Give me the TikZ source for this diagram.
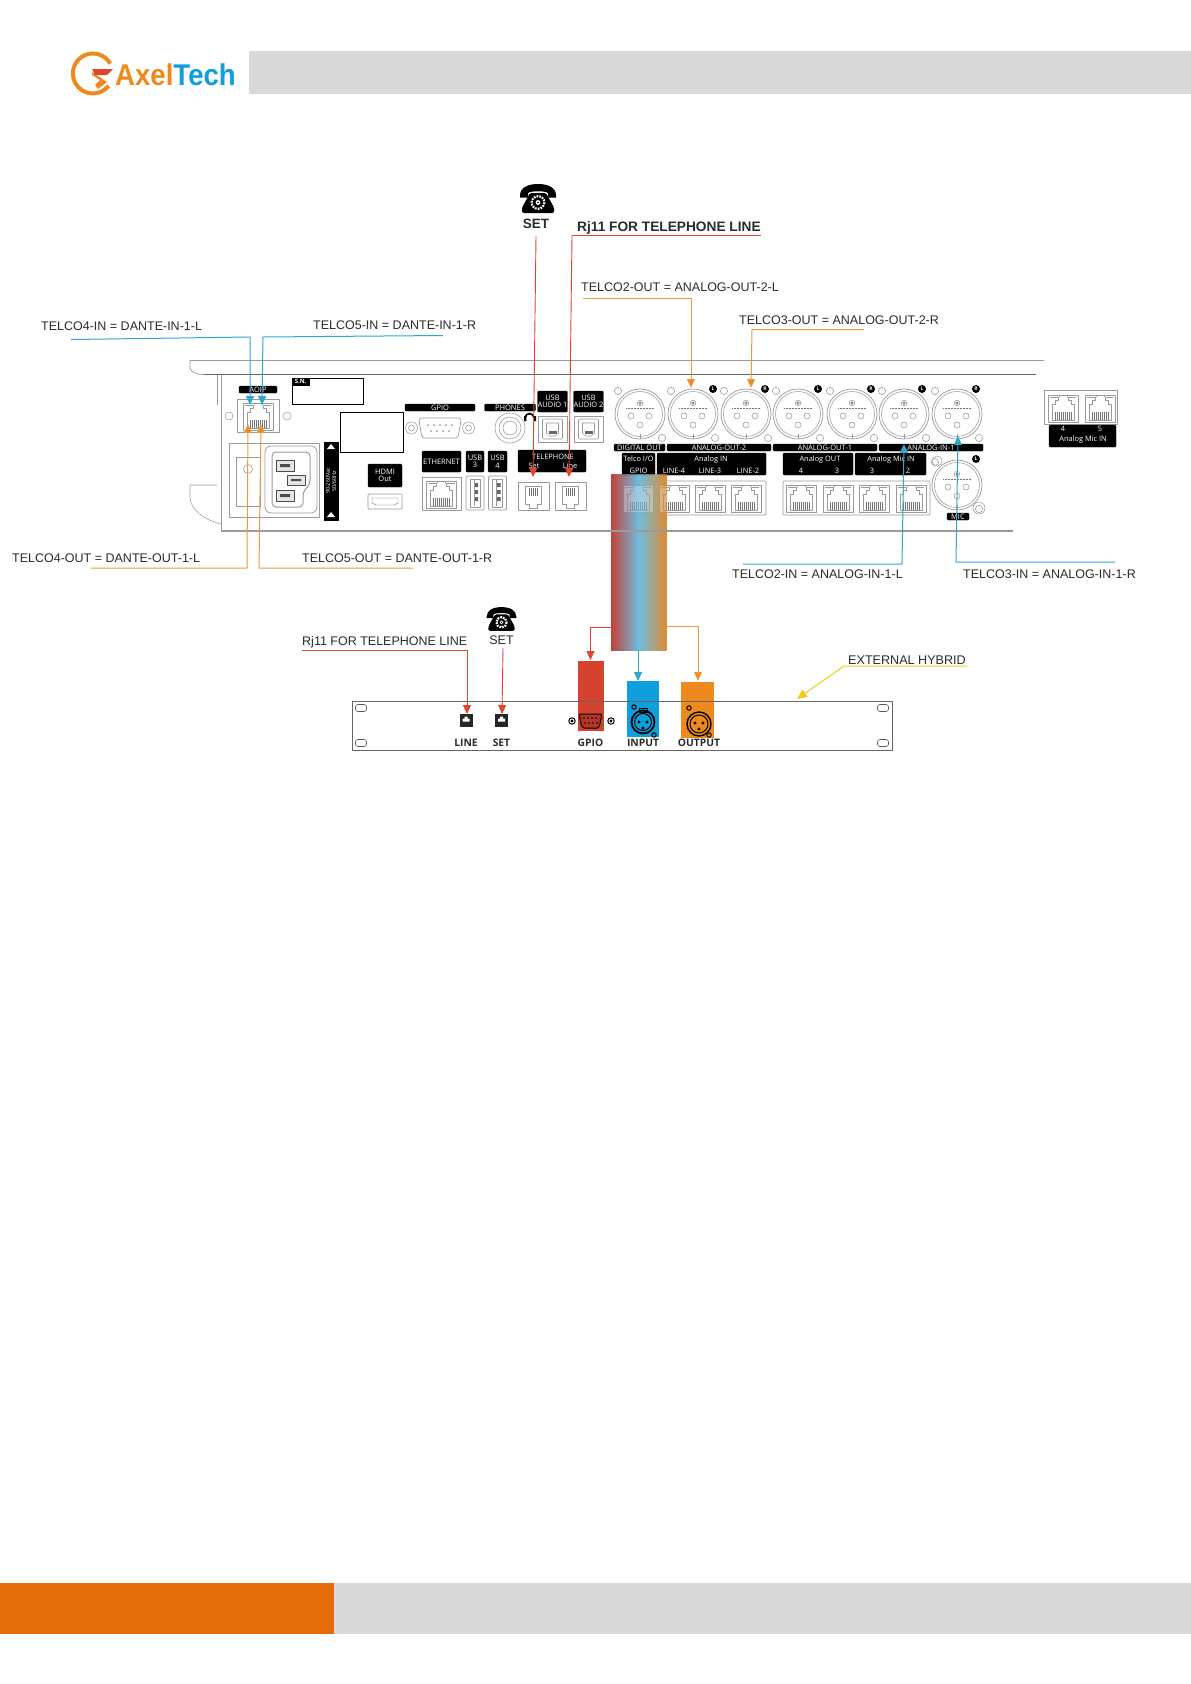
\documentclass[tikz,border=0pt]{standalone}
\usepackage{fontspec}
\setmainfont{Liberation Sans}
\newfontfamily\opensf{Open Sans}
\usetikzlibrary{arrows.meta,calc}
\definecolor{hdrgrey}{HTML}{D9D9D9}
\definecolor{footor}{HTML}{E46C0A}
\definecolor{axor}{HTML}{EE8A1D}
\definecolor{axbl}{HTML}{0E9FDC}
\definecolor{lnred}{HTML}{E0452F}
\definecolor{lnblue}{HTML}{2FA6CF}
\definecolor{lnor}{HTML}{EE9A3E}
\definecolor{lnyel}{HTML}{F2CB1D}
\definecolor{panel}{HTML}{9A9A9A}
\definecolor{txt}{HTML}{2B2B2B}
\definecolor{gradl}{HTML}{C4423A}
\definecolor{gradm}{HTML}{6DBDE2}
\definecolor{gradr}{HTML}{E08A2E}
\tikzset{
  lbl/.style={anchor=west,inner sep=0pt,text=txt,font=\fontsize{12.5}{14}\selectfont},
  blk/.style={fill=black,draw=black,line width=0.3pt,rounded corners=1pt,text=white,inner sep=0pt,align=center,font=\opensf\fontsize{7.5}{8.6}\selectfont},
  wht/.style={text=white,inner sep=0pt,font=\opensf\fontsize{7.4}{8}\selectfont},
  ln/.style={draw=panel,line width=0.55pt},
  tipblue/.style={draw=lnblue,line width=1pt,-{Triangle[length=9pt,width=8pt,fill=lnblue]}},
  tipor/.style={draw=lnor,line width=1pt,-{Triangle[length=9pt,width=8pt,fill=axor]}},
  tipred/.style={draw=lnred,line width=0.9pt,-{Triangle[length=9pt,width=8pt,fill=lnred]}},
  rackl/.style={inner sep=0pt,text=txt,font=\opensf\bfseries\fontsize{10.3}{11}\selectfont},
  gradband/.style={left color=gradl,right color=gradr,middle color=gradm},
  pics/telset/.style={code={
    \fill[black] (-18,-3) .. controls (-18,-11) and (-10,-14.5) .. (0,-14.5) .. controls (10,-14.5) and (18,-11) .. (18,-3) -- (18,-1) -- (10,-1) -- (10,-5) .. controls (10,-8) and (-10,-8) .. (-10,-5) -- (-10,-1) -- (-18,-1) -- cycle;
    \fill[black,rounded corners=1.5pt] (-8,-5.5) -- (8,-5.5) -- (16,9) -- (16,14.5) -- (-16,14.5) -- (-16,9) -- cycle;
    \draw[white,line width=2.2pt,dash pattern=on 1.7pt off 1.1pt] (0,4) circle (6.3);
    \fill[white] (0,4) circle (2.4);
    \fill[black] (0,4) circle (0.9);
  }},
  pics/xlrport/.style={code={
    \draw[ln,line width=0.7pt] (0,0) circle (25);
    \draw[ln] (0,0) circle (22.5);
    \draw[ln,fill=white] (0,-11) circle (2.8);
    \draw[ln,fill=black!70] (0,-11) circle (1.3);
    \draw[ln] (-9,2) circle (3); \draw[ln] (9,2) circle (3);
    \draw[ln] (0,11) circle (3);
    \draw[black!55,line width=0.9pt,dash pattern=on 1pt off 0.5pt] (-14,-5.5) -- (14,-5.5);
    \draw[ln] (0,20) -- (0,25);
    \draw[ln] (-22,-23) circle (3.6);
    \draw[ln] (22,24) circle (3.6);
  }},
  pics/rjport/.style={code={
    \draw[ln,fill=white] (-15,-13) rectangle (15,14);
    \draw[ln] (-13,-11) -- (-5,-11) -- (-5,-8) -- (-8,-8) (13,-11) -- (5,-11) -- (5,-8) -- (8,-8);
    \draw[ln] (-8,-8) -- (-8,-4) -- (-11,-4) -- (-11,12) -- (11,12) -- (11,-4) -- (8,-4) -- (8,-8);
    \draw[ln] (-4,-11) -- (-4,-13) -- (4,-13) -- (4,-11);
    \draw[black!55,line width=0.5pt] (-8,4) -- (-8,12) (-6,4) -- (-6,12) (-4,4) -- (-4,12) (-2,4) -- (-2,12) (0,4) -- (0,12) (2,4) -- (2,12) (4,4) -- (4,12) (6,4) -- (6,12) (8,4) -- (8,12);
  }},
  pics/rjeleven/.style={code={
    \draw[ln,line width=0.7pt] (-15.5,-14) rectangle (15.5,14);
    \draw[ln] (-8,-10) -- (8,-10) -- (8,8) -- (4,8) -- (4,12) -- (-4,12) -- (-4,8) -- (-8,8) -- cycle;
    \draw[black!55,line width=0.5pt] (-4,-8) -- (-4,0) (-2,-8) -- (-2,0) (0,-8) -- (0,0) (2,-8) -- (2,0) (4,-8) -- (4,0);
  }},
  pics/rackjack/.style={code={
    \fill[black!85] (-6.5,-6.5) rectangle (6.5,6.5);
    \fill[white] (-3.5,1) -- (-3.5,-2) -- (-1.5,-2) -- (-1.5,-4) -- (1.5,-4) -- (1.5,-2) -- (3.5,-2) -- (3.5,1) -- cycle;
  }},
  pics/usba/.style={code={
    \draw[ln,line width=0.7pt,rounded corners=1pt] (-9,-17) rectangle (9,17);
    \draw[ln] (-5,-14) rectangle (5,14);
    \fill[black!60] (-1,-10) rectangle (3,-6) (-1,-3) rectangle (3,1) (-1,4) rectangle (3,8);
    \draw[ln] (-1,-13) -- (-1,13);
  }},
  pics/usbb/.style={code={
    \draw[ln,line width=0.7pt] (-14.5,-13) rectangle (14.5,13);
    \draw[ln,rounded corners=1pt] (-10,-10) rectangle (10,10);
    \draw[ln] (-6,-6) -- (6,-6) -- (6,4) -- (3,7) -- (-3,7) -- (-6,4) -- cycle;
    \fill[black!60] (-4,2) rectangle (4,5);
  }},
  pics/dbnine/.style={code={
    \draw[ln,rounded corners=3pt,line width=0.7pt] (-21.5,-10) -- (21.5,-10) -- (18,10) -- (-18,10) -- cycle;
    \foreach \xx in {-12,-6,0,6,12} \fill[panel] (\xx,-3) circle (1);
    \foreach \xx in {-9,-3,3,9} \fill[panel] (\xx,3) circle (1);
    \draw[ln] (-28.5,0) circle (6) (-28.5,0) circle (3);
    \draw[ln] (28.5,0) circle (6) (28.5,0) circle (3);
  }},
}
\begin{document}
\begin{tikzpicture}[x=1pt,y=-1pt,line join=round]
\useasboundingbox (0,0) rectangle (1191,1684);
\fill[white] (0,0) rectangle (1191,1684);
% header / footer
\fill[hdrgrey] (249,51) rectangle (1191,94);
\fill[hdrgrey] (334,1583) rectangle (1191,1634);
\fill[footor] (0,1583) rectangle (334,1634);
% logo
\draw[axor,line width=4pt] (110.2,63.5) arc[start angle=30,end angle=322,radius=20pt];
\fill[axor] (92,72) -- (107,82) -- (98,89) -- (95,85) -- (100,80) -- (92,75) -- cycle;
\fill[lnred] (92,69) -- (113,69) -- (107,75) -- (95,75) -- cycle;
\node[anchor=west,inner sep=0pt,xscale=0.92,font=\bfseries\fontsize{30}{32}\selectfont] (logotext) at (115,74.5) {\textcolor{axor}{Axel}\textcolor{axbl}{Tech}};
% gradient band
\shade[gradband] (611,474) rectangle (666.5,650);
\node[inner sep=0pt,minimum width=55pt,minimum height=176pt] (band) at (638.75,562) {};
% device outline
\draw[ln,line width=0.7pt] (1044,360.5) -- (190,360.5) -- (190,367) .. controls (190,372) and (196,374.5) .. (204,374.5);
\draw[black!60,line width=1.1pt] (204,374.5) -- (1036,374.5);
\draw[ln] (217,375) -- (217,405) (221,375) -- (221,531);
\draw[ln] (190,485) -- (217,485) (190,485) -- (190,497) .. controls (190,510) and (205,520) .. (221,524);
\draw[ln,line width=1.1pt] (221,531) -- (1013,531);
% AOIP
\node[blk,minimum width=38pt,minimum height=7pt] (aoip) at (258,389.5) {AOIP};
\draw[ln] (237,399) rectangle (279,432);
\pic at (258,416) {rjport};
\draw[ln] (229,416) circle (4) (287,416) circle (4);
% S.N.
\draw[black,line width=1pt] (292,378) rectangle (363,404);
\node[blk,minimum width=17pt,minimum height=7pt,anchor=north west,font=\opensf\bfseries\fontsize{6}{7}\selectfont,rounded corners=0pt] (sn) at (292,378) {S.N.};
% GPIO
\node[blk,minimum width=70pt,minimum height=7pt] (gpiolab) at (440,407.5) {GPIO};
\draw[black,line width=1pt] (340,412) rectangle (403,452);
\pic at (440,428) {dbnine};
% PHONES
\node[blk,minimum width=51pt,minimum height=7pt] (phones) at (510,407.5) {PHONES};
\draw[ln] (510,428) circle (15) (510,428) circle (11) (510,428) circle (7);
\draw[black,line width=1.7pt] (525,418) arc[start angle=180,end angle=0,radius=4.5pt];
\fill[black] (524,416) rectangle (526.4,421) (533.5,416) rectangle (536,421);
% USB audio
\node[blk,minimum width=29pt,minimum height=21pt] (usba1) at (552.5,401.5) {USB\\[-1pt]AUDIO 1};
\node[blk,minimum width=29pt,minimum height=21pt] (usba2) at (588.5,401.5) {USB\\[-1pt]AUDIO 2};
\pic at (552.5,429) {usbb};
\pic at (588.5,429) {usbb};
% ethernet, usb, hdmi
\node[blk,minimum width=39pt,minimum height=21pt] (eth) at (441.5,461.5) {ETHERNET};
\draw[ln] (422,477) rectangle (461,510);
\pic at (441.5,494) {rjport};
\node[blk,minimum width=18pt,minimum height=21pt] (usb3) at (475,461.5) {USB\\[-1pt]3};
\node[blk,minimum width=19pt,minimum height=21pt] (usb4) at (497.5,461.5) {USB\\[-1pt]4};
\pic at (475,493) {usba};
\pic at (497.5,493) {usba};
\node[blk,minimum width=34pt,minimum height=23pt] (hdmi) at (385,475.5) {HDMI\\[-1pt]Out};
\draw[ln,rounded corners=1pt,line width=0.7pt] (368,494) rectangle (402,509);
\draw[black!60] (372,498) -- (398,498) -- (398,503) -- (394,505) -- (376,505) -- (372,503) -- cycle;
% telephone
\node[blk,minimum width=68pt,minimum height=22pt] (tel) at (552,461) {};
\node[wht] (teltxt) at (553,456.5) {TELEPHONE};
\node[wht] (telset) at (534,465.5) {Set};
\node[wht] (telline) at (570,465.5) {Line};
\pic at (533.5,496) {rjeleven};
\pic at (570.5,496) {rjeleven};
% power
\draw[ln] (229,443) rectangle (319,517);
\draw[ln] (236,457) rectangle (260,506);
\draw[ln] (248,469) circle (4.5);
\draw[ln,rounded corners=6pt,line width=0.8pt] (265,446) rectangle (317,513);
\draw[ln,line width=1pt,rounded corners=4pt] (272,452) -- (310,452) -- (310,484) -- (303,492) -- (303,507) -- (272,507) -- cycle;
\draw[black!70,fill=black!10] (276,460) rectangle (294,471) (276,490) rectangle (294,501) (287,475) rectangle (305,485);
\fill[black!70] (280,464) rectangle (290,467) (280,494) rectangle (290,497) (291,479) rectangle (301,481);
\node[blk,minimum width=14pt,minimum height=78pt,rounded corners=0pt] (volt) at (331,481) {};
\node[wht,rotate=90,align=center,font=\opensf\fontsize{5.4}{6.2}\selectfont] (volttxt) at (331,481) {90-260Vac\\50/60Hz};
\fill[white] (331,444) -- (335,449) -- (327,449) -- cycle;
\fill[white] (331,512) -- (327,517) -- (335,517) -- cycle;
% XLR row
\foreach \cx/\nm in {640/x1,693/x2,746/x3,798/x4,852/x5,904/x6,957/x7} {\pic at (\cx,414) {xlrport}; \coordinate (\nm) at (\cx,414);}
\foreach \cx/\bd/\nm in {713/L/bb1,765/R/bb2,818/L/bb3,871/R/bb4,922/L/bb5,976/R/bb6}
  \node[circle,fill=black,text=white,inner sep=0pt,minimum size=8pt,font=\opensf\bfseries\fontsize{5}{6}\selectfont] (\nm) at (\cx,389) {\bd};
\node[blk,minimum width=51pt,minimum height=7pt] (digout) at (639.5,447.5) {DIGITAL OUT};
\node[blk,minimum width=104pt,minimum height=7pt] (ao2) at (719,447.5) {ANALOG-OUT-2};
\node[blk,minimum width=104pt,minimum height=7pt] (ao1) at (825,447.5) {ANALOG-OUT-1};
\node[blk,minimum width=104pt,minimum height=7pt] (ai1) at (931,447.5) {ANALOG-IN-1};
% Telco, Analog IN etc
\node[blk,minimum width=33pt,minimum height=22pt] (telcob) at (638.5,464) {};
\node[wht] (telcot) at (638.5,459) {Telco I/O};
\node[wht] (telcog) at (638.5,471) {GPIO};
\node[blk,minimum width=109pt,minimum height=22pt] (ainb) at (711.5,464) {};
\node[wht] (aint) at (711,459.5) {Analog IN};
\node[wht] (l4) at (674,471) {LINE-4};
\node[wht] (l3) at (710,471) {LINE-3};
\node[wht] (l2) at (748,471) {LINE-2};
\node[blk,minimum width=70pt,minimum height=22pt] (aob) at (818,464) {};
\node[wht] (aot) at (820,459.5) {Analog OUT};
\node[wht] (ao4) at (801,471) {4};
\node[wht] (ao3) at (837,471) {3};
\node[blk,minimum width=71pt,minimum height=22pt] (amb) at (890.5,464) {};
\node[wht] (amt) at (891,459.5) {Analog Mic IN};
\node[wht] (am3) at (872,471) {3};
\node[wht] (am2) at (908,471) {2};
% RJ45 groups
\draw[ln,rounded corners=1pt,line width=0.7pt] (619,481) rectangle (766,515);
\foreach \cx in {674,710,746} \pic at (\cx,498) {rjport};
\pic at (638,498) {rjport};
\shade[gradband,opacity=0.72] (611,474) rectangle (666.5,520);
\draw[ln,rounded corners=1pt,line width=0.7pt] (783,481) rectangle (930,515);
\foreach \cx in {801,838,874,911} \pic at (\cx,498) {rjport};
% MIC
\pic at (957,485) {xlrport};
\draw[ln] (937,461) circle (5) (979,508) circle (6);
\node[circle,fill=black,text=white,inner sep=0pt,minimum size=8pt,font=\opensf\bfseries\fontsize{5}{6}\selectfont] (bbmic) at (976,459) {L};
\node[blk,minimum width=22pt,minimum height=7pt] (mic) at (958,516.5) {MIC};
% side panel
\draw[ln,line width=0.8pt] (1044,390.5) rectangle (1117.5,424);
\begin{scope}[scale=0.95]
\pic at (1063/0.95,408/0.95) {rjport};
\pic at (1100/0.95,408/0.95) {rjport};
\end{scope}
\node[blk,minimum width=67pt,minimum height=22pt] (sideb) at (1082.5,436) {};
\node[wht] (s4) at (1063,428.5) {4};
\node[wht] (s5) at (1100,428.5) {5};
\node[wht] (st) at (1083,439.5) {Analog Mic IN};
% rack
\draw[black!60,line width=0.9pt] (352,701) rectangle (892.5,750);
\foreach \hx/\hy in {361/708,361/743,883/708,883/743}
  \draw[black!65,line width=0.6pt,rounded corners=2.5pt] (\hx-5.5,\hy-3.5) rectangle (\hx+5.5,\hy+3.5);
\fill[lnred!95!black] (578,661) rectangle (603.5,731);
\fill[axbl] (627,681) rectangle (659,737);
\fill[axor] (681,682) rectangle (714,737.5);
\draw[black!60,line width=0.9pt] (578,701) -- (714,701);
\pic at (466,720.5) {rackjack};
\pic at (501.5,720.5) {rackjack};
% GPIO connector on rack
\begin{scope}[black,line width=1pt]
\draw[fill=lnred!80!black,rounded corners=2pt] (579,714) -- (602,714) -- (599,728) -- (582,728) -- cycle;
\foreach \xx in {584,588,592,596} \fill[black] (\xx,718) circle (0.9) (\xx+1,723) circle (0.9);
\draw[fill=white] (572,721) circle (3.2);
\draw[fill=white] (611,721) circle (3.2);
\fill[black] (572,721) circle (1.6) (611,721) circle (1.6);
% input XLR
\draw[line width=1.8pt] (643,722) circle (11.5);
\draw (643,722) circle (8.5);
\fill[black] (639,722) circle (1.7) (647,722) circle (1.7) (643,728) circle (1.7);
\draw (639,712) rectangle (647,708);
\draw (634,707) circle (2.2) (654,735) circle (2.2);
% output XLR
\draw[line width=1.4pt] (699,724) circle (12);
\draw (699,724) circle (9);
\fill[black] (695,723) circle (1.7) (703,723) circle (1.7) (699,729) circle (1.7);
\draw (689,708) circle (2.2) (709,735) circle (2.2);
\end{scope}
\node[rackl] (rline) at (466,743) {LINE};
\node[rackl] (rset) at (501.5,743) {SET};
\node[rackl] (rgpio) at (590.5,743) {GPIO};
\node[rackl] (rinput) at (643,743) {INPUT};
\node[rackl] (routput) at (699,743) {OUTPUT};
% phones
\pic at (538,198.5) {telset};
\node[inner sep=0pt,text=txt,font=\bfseries\fontsize{13.5}{15}\selectfont] (settop) at (536,224) {SET};
\pic[scale=0.82] at (501.5,619) {telset};
\node[inner sep=0pt,text=txt,font=\fontsize{12.5}{14}\selectfont] (setbot) at (501.5,640) {SET};
% labels
\node[lbl] (t4in) at (41,326) {TELCO4-IN = DANTE-IN-1-L};
\node[lbl] (t5in) at (313,325) {TELCO5-IN = DANTE-IN-1-R};
\node[lbl] (t4out) at (12,558.5) {TELCO4-OUT = DANTE-OUT-1-L};
\node[lbl] (t5out) at (302,558.5) {TELCO5-OUT = DANTE-OUT-1-R};
\node[lbl] (t2out) at (581,287.5) {TELCO2-OUT = ANALOG-OUT-2-L};
\node[lbl] (t3out) at (739,320.5) {TELCO3-OUT = ANALOG-OUT-2-R};
\node[lbl] (t2in) at (732,574) {TELCO2-IN = ANALOG-IN-1-L};
\node[lbl] (t3in) at (963,574) {TELCO3-IN = ANALOG-IN-1-R};
\node[lbl,font=\bfseries\fontsize{13.7}{15}\selectfont] (rjtop) at (577,228) {Rj11 FOR TELEPHONE LINE};
\node[lbl] (rjbot) at (302,642.5) {Rj11 FOR TELEPHONE LINE};
\node[lbl,font=\fontsize{12.6}{14}\selectfont] (exthy) at (848,660) {EXTERNAL HYBRID};
% connector ends
\coordinate (a1) at (71,339.5);
\coordinate (a1b) at (250,337);
\coordinate (a1t) at (250,405);
\coordinate (a2) at (443,335.5);
\coordinate (a2b) at (263,337);
\coordinate (a2t) at (262,405);
\coordinate (b1) at (91,568);
\coordinate (b1b) at (247,568);
\coordinate (b1t) at (248,424);
\coordinate (b2) at (413,568);
\coordinate (b2b) at (259,568);
\coordinate (b2t) at (261,424);
\coordinate (c1) at (691,298);
\coordinate (c0) at (583,298);
\coordinate (c1t) at (691,388);
\coordinate (c2) at (864,329.5);
\coordinate (c2b) at (752,329.5);
\coordinate (c2t) at (751,388);
\coordinate (d1) at (743,564);
\coordinate (d1b) at (902,564);
\coordinate (d1t) at (904,444);
\coordinate (d2) at (1115,562);
\coordinate (d2b) at (956,562);
\coordinate (d2t) at (958,436);
\coordinate (e1) at (536,236);
\coordinate (e1t) at (533,477);
\coordinate (e2) at (761,235.5);
\coordinate (e2b) at (572,235.5);
\coordinate (e2t) at (569,477);
\coordinate (f1) at (302,650);
\coordinate (f1b) at (467,650);
\coordinate (f1t) at (467,714);
\coordinate (f2) at (503,648);
\coordinate (f2t) at (502,714);
\coordinate (g1) at (611,627);
\coordinate (g1b) at (590.5,627);
\coordinate (g1t) at (590.5,660);
\coordinate (g2) at (638,650);
\coordinate (g2t) at (638,681);
\coordinate (g3) at (666.5,626);
\coordinate (g3b) at (698,626);
\coordinate (g3t) at (698,681);
\coordinate (h1) at (967,666);
\coordinate (h1b) at (844,666);
\coordinate (h1t) at (797,699);
% connectors
\draw[tipblue] (a1) -- (a1b) -- (a1t);
\draw[tipblue] (a2) -- (a2b) -- (a2t);
\draw[tipor] (b1) -- (b1b) -- (b1t);
\draw[tipor] (b2) -- (b2b) -- (b2t);
\draw[tipor] (c0) -- (c1) -- (c1t);
\draw[tipor] (c2) -- (c2b) -- (c2t);
\draw[tipblue] (d1) -- (d1b) -- (d1t);
\draw[tipblue] (d2) -- (d2b) -- (d2t);
\draw[tipred] (e1) -- (e1t);
\draw[tipred] (e2) -- (e2b) -- (e2t);
\draw[tipred] (f1) -- (f1b) -- (f1t);
\draw[tipred] (f2) -- (f2t);
\draw[tipred] (g1) -- (g1b) -- (g1t);
\draw[tipblue] (g2) -- (g2t);
\draw[tipor] (g3) -- (g3b) -- (g3t);
\draw[draw=lnyel,line width=1pt,-{Triangle[length=10pt,width=9pt,fill=lnyel]}] (h1) -- (h1b) -- (h1t);
\end{tikzpicture}
\end{document}
